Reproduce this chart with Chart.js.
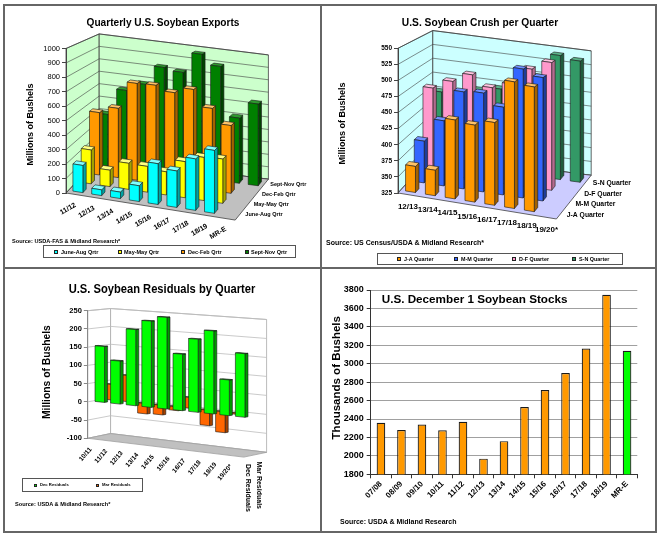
<!DOCTYPE html>
<html><head><meta charset="utf-8"><title>Soybean charts</title>
<script src="https://cdn.jsdelivr.net/npm/chart.js@4.4.1/dist/chart.umd.min.js"></script>
<style>
html,body{margin:0;padding:0;background:#fff;}
#page{position:relative;width:661px;height:538px;overflow:hidden;background:#fff;font-family:"Liberation Sans",Arial,Helvetica,sans-serif;}
#page canvas{position:absolute;left:0;top:0;}
.t{position:absolute;white-space:nowrap;line-height:1;font-weight:bold;color:#000;z-index:5;}
.ln{position:absolute;background:#666;z-index:6;}
.lg{position:absolute;border:1px solid #555;background:#fff;z-index:4;box-sizing:border-box;}
.mk{position:absolute;border:1px solid #222;box-sizing:border-box;z-index:5;}
</style></head>
<body><div id="page">
<canvas id="c1" width="661" height="538"></canvas>
<canvas id="c2" width="661" height="538"></canvas>
<canvas id="c3" width="661" height="538"></canvas>
<canvas id="c4" width="661" height="538"></canvas>
</div>
<script>
const FONT='"Liberation Sans", Arial, Helvetica, sans-serif';

// ---------------- DATA ----------------
const exportCats=['11/12','12/13','13/14','14/15','15/16','16/17','17/18','18/19','MR-E'];
const exportSeries=['June-Aug Qrtr','May-May Qrtr','Dec-Feb Qrtr','Sept-Nov Qrtr'];
const exportJunAug=[190,40,45,110,285,255,360,440,null];
const exportMarMay=[245,119,189,187,168,262,313,321,null];
const exportDecFeb=[469,521,728,734,698,742,619,510,null];
const exportSepNov=[404,611,678,829,810,971,895,510,639];
const exportTicks=[0,100,200,300,400,500,600,700,800,900,1000];

const crushCats=['12/13','13/14','14/15','15/16','16/17','17/18','18/19','19/20*'];
const crushSeries=['J-A Quarter','M-M Quarter','D-F Quarter','S-N Quarter'];
const crushJA=[366,365,449,446,455,524,521,null];
const crushMM=[393,431,483,486,468,535,526,null];
const crushDF=[469,485,501,484,495,525,541,null];
const crushSN=[451,447,463,470,485,500,543,538];
const crushTicks=[325,350,375,400,425,450,475,500,525,550];

const residCats=['10/11','11/12','12/13','13/14','14/15','15/16','16/17','17/18','18/19','19/20*'];
const residSeries=['Dec Residuals','Mar Residuals'];
const residDec=[153,117,206,232,245,150,193,218,93,165];
const residMar=[43,72,-28,-26,-10,29,-41,-55,-3,null];
const residTicks=[-100,-50,0,50,100,150,200,250];

const stockCats=['07/08','08/09','09/10','10/11','11/12','12/13','13/14','14/15','15/16','16/17','17/18','18/19','MR-E'];
const stockValues=[2360,2280,2340,2278,2370,1970,2160,2530,2715,2900,3165,3748,3140];
const stockTicks=[1800,2000,2200,2400,2600,2800,3000,3200,3400,3600,3800];

// ---------------- STYLES ----------------
const exportColors=[
  {front:'#00ffff',side:'#00a3a3',top:'#80ffff'},
  {front:'#ffff00',side:'#a3a300',top:'#ffff80'},
  {front:'#ff9900',side:'#a36200',top:'#ffc266'},
  {front:'#008000',side:'#004400',top:'#2e9a2e'}];
const crushColors=[
  {front:'#ff9900',side:'#a36200',top:'#ffc266'},
  {front:'#3366ff',side:'#1f3d99',top:'#7090ff'},
  {front:'#ff99cc',side:'#b36b8f',top:'#ffc2e0'},
  {front:'#339966',side:'#1f5c3d',top:'#5cb38a'}];
const residColors=[
  {front:'#00ff00',side:'#009900',top:'#00c000'},
  {front:'#ff6600',side:'#a34100',top:'#ff8c40'}];

Chart.defaults.font.family=FONT;
Chart.defaults.color='#000';
const plainTick=v=>String(v);

// ---------------- 3D helpers ----------------
function projector(chart,g){
  const ys=chart.scales.y, L=chart.chartArea.left;
  const yr=ys.getPixelForValue(g.vRef);
  return function(x,v,z){
    const yv=ys.getPixelForValue(v);
    const k=(1-g.kz*z)*(1+g.kx*(x-L));
    return [x+z*g.dzx, yr+(g.s0+g.sz*z)*(x-L)-z*g.dzy-(yr-yv)*k];
  };
}
function poly(ctx,pts,fill,stroke,lw){
  ctx.beginPath();
  pts.forEach((p,i)=>i?ctx.lineTo(p[0],p[1]):ctx.moveTo(p[0],p[1]));
  ctx.closePath();
  if(fill){ctx.fillStyle=fill;ctx.fill();}
  if(stroke){ctx.strokeStyle=stroke;ctx.lineWidth=lw||1;ctx.stroke();}
}
function seg(ctx,a,b,c,lw){ctx.beginPath();ctx.moveTo(a[0],a[1]);ctx.lineTo(b[0],b[1]);ctx.strokeStyle=c;ctx.lineWidth=lw;ctx.stroke();}

function make3D(g){
  return {
    id:'p3d_'+g.name,
    beforeDraw(chart){
      const ctx=chart.ctx,P=projector(chart,g),ca=chart.chartArea,ys=chart.scales.y;
      const L=ca.left,Rx=ca.right,R=g.rows,vmin=ys.min,vmax=ys.max;
      ctx.save();
      poly(ctx,[P(L,vmin,0),P(L,vmin,R),P(L,vmax,R),P(L,vmax,0)],g.wall,g.wallEdge,0.8);
      poly(ctx,[P(L,vmin,R),P(Rx,vmin,R),P(Rx,vmax,R),P(L,vmax,R)],g.wall,g.wallEdge,0.8);
      ys.ticks.forEach(t=>{
        seg(ctx,P(L,t.value,0),P(L,t.value,R),g.grid,g.gridW);
        seg(ctx,P(L,t.value,R),P(Rx,t.value,R),g.grid,g.gridW);
      });
      poly(ctx,[P(L,vmin,0),P(Rx,vmin,0),P(Rx,vmin,R),P(L,vmin,R)],g.floor,g.floorEdge,0.8);
      ctx.restore();
    },
    afterDatasetsDraw(chart){
      const ctx=chart.ctx,P=projector(chart,g),ca=chart.chartArea,ys=chart.scales.y,xs=chart.scales.x;
      ctx.save(); ctx.lineJoin='round';
      for(let d=chart.data.datasets.length-1;d>=0;d--){
        const ds=chart.data.datasets[d],meta=chart.getDatasetMeta(d),col=g.colors[d];
        const zf=d+0.5-g.f/2, zb=d+0.5+g.f/2;
        meta.data.forEach((el,i)=>{
          const v=ds.data[i]; if(v===null||v===undefined) return;
          const pr=el.getProps(['x','width'],true);
          const x0=pr.x-pr.width/2, x1=pr.x+pr.width/2;
          const vt=Math.max(v,g.vBase), vb=Math.min(v,g.vBase);
          poly(ctx,[P(x1,vt,zf),P(x1,vt,zb),P(x1,vb,zb),P(x1,vb,zf)],col.side,g.edge,g.edgeW);
          poly(ctx,[P(x0,vt,zf),P(x1,vt,zf),P(x1,vt,zb),P(x0,vt,zb)],col.top,g.edge,g.edgeW);
          poly(ctx,[P(x0,vt,zf),P(x1,vt,zf),P(x1,vb,zf),P(x0,vb,zf)],col.front,g.edge,g.edgeW);
        });
      }
      // category labels along the front edge of the floor
      ctx.fillStyle='#000'; ctx.font=g.catFont;
      chart.data.labels.forEach((lab,i)=>{
        const p=P(xs.getPixelForValue(i),ys.min,0);
        ctx.save(); ctx.translate(p[0]+g.catDx,p[1]+g.catDy); ctx.rotate(g.catRot*Math.PI/180);
        ctx.textAlign=g.catAlign; ctx.textBaseline='middle'; ctx.fillText(lab,0,0); ctx.restore();
      });
      // series (depth) labels along the right edge of the floor
      ctx.font=g.rowFont;
      chart.data.datasets.forEach((ds,d)=>{
        const p=P(ca.right,ys.min,d+0.5);
        ctx.save(); ctx.translate(p[0]+g.rowDx,p[1]+g.rowDy); ctx.rotate(g.rowRot*Math.PI/180);
        ctx.textAlign='left'; ctx.textBaseline='middle'; ctx.fillText(ds.label,0,0); ctx.restore();
      });
      ctx.restore();
    }
  };
}

function build3D(id,cats,names,series,ticks,area,g){
  const datasets=series.map((d,i)=>({label:names[i],data:d,backgroundColor:'rgba(0,0,0,0)',borderWidth:0,
    grouped:false,categoryPercentage:g.barFrac,barPercentage:1}));
  return new Chart(document.getElementById(id),{
    type:'bar',
    data:{labels:cats,datasets},
    options:{
      responsive:false,animation:false,events:[],
      layout:{padding:{left:area.left-g.axisW,top:area.top,right:661-area.right,bottom:538-area.bottom}},
      plugins:{legend:{display:false},tooltip:{enabled:false},title:{display:false}},
      scales:{
        x:{type:'category',display:false,offset:true},
        y:{position:'left',min:ticks[0],max:ticks[ticks.length-1],
          ticks:{stepSize:ticks[1]-ticks[0],font:g.tickFont,color:'#000',padding:2,autoSkip:false,callback:plainTick},
          grid:{drawOnChartArea:false,drawTicks:true,tickLength:4,color:g.axisColor,tickColor:g.axisColor},
          border:{display:true,color:g.axisColor,width:1},
          afterFit(s){s.width=g.axisW;}}
      }
    },
    plugins:[make3D(g)]
  });
}

// ---------- Panel 1: exports ----------
build3D('c1',exportCats,exportSeries,[exportJunAug,exportMarMay,exportDecFeb,exportSepNov],exportTicks,
  {left:66,right:235.2,top:48.5,bottom:193},
  {name:'exp',rows:4,dzx:8.3,dzy:8.7,f:0.4,s0:0.16,sz:-0.009,kz:0.035,kx:0,vRef:0,vBase:0,barFrac:0.53,
   axisW:30,tickFont:{size:7.5,weight:'normal'},axisColor:'#444',
   wall:'#ccffcc',wallEdge:'#404040',grid:'#404040',gridW:0.6,floor:'#c0c0c0',floorEdge:'#404040',
   edge:'#1a1a1a',edgeW:0.6,colors:exportColors,
   catFont:'bold 7px '+FONT,catRot:-30,catAlign:'right',catDx:0,catDy:10,
   rowFont:'bold 5.5px '+FONT,rowDx:6,rowDy:0,rowRot:0});

// ---------- Panel 2: crush ----------
build3D('c2',crushCats,crushSeries,[crushJA,crushMM,crushDF,crushSN],crushTicks,
  {left:398,right:556.4,top:48.3,bottom:193},
  {name:'cr',rows:4,dzx:8.7,dzy:9.5,f:0.4,s0:0.164,sz:-0.009,kz:0.035,kx:0,vRef:325,vBase:325,barFrac:0.5,
   axisW:30,tickFont:{size:6.5,weight:'bold'},axisColor:'#444',
   wall:'#ccffff',wallEdge:'#404040',grid:'#404040',gridW:0.6,floor:'#ccccff',floorEdge:'#404040',
   edge:'#1a1a1a',edgeW:0.6,colors:crushColors,
   catFont:'bold 8px '+FONT,catRot:0,catAlign:'center',catDx:0,catDy:12,
   rowFont:'bold 6.8px '+FONT,rowDx:6,rowDy:2,rowRot:0});

// ---------- Panel 3: residuals ----------
build3D('c3',residCats,residSeries,[residDec,residMar],residTicks,
  {left:87.8,right:243.8,top:310.7,bottom:438.3},
  {name:'res',rows:2,dzx:11.4,dzy:2,f:0.27,s0:0.106,sz:0,kz:0.01,kx:0.0004,vRef:0,vBase:0,barFrac:0.61,
   axisW:30,tickFont:{size:7.5,weight:'bold'},axisColor:'#888',
   wall:'#ffffff',wallEdge:'#a8a8a8',grid:'#bcbcbc',gridW:0.8,floor:'#c0c0c0',floorEdge:'#a0a0a0',
   edge:'#1a1a1a',edgeW:0.6,colors:residColors,
   catFont:'bold 6.5px '+FONT,catRot:-50,catAlign:'right',catDx:-5,catDy:9,
   rowFont:'bold 7px '+FONT,rowDx:-2,rowDy:8,rowRot:90});

// ---------- Panel 4: December 1 stocks ----------
new Chart(document.getElementById('c4'),{
  type:'bar',
  data:{labels:stockCats,datasets:[{label:'Dec 1 Stocks',data:stockValues,
    backgroundColor:stockCats.map(c=>c==='MR-E'?'#00ff00':'#ff9900'),
    borderColor:'#1a1a1a',borderWidth:1.2,borderSkipped:false,categoryPercentage:1,barPercentage:0.42}]},
  options:{
    responsive:false,animation:false,events:[],
    layout:{padding:{left:370.7-34,top:290,right:661-637.3,bottom:538-474.3-52}},
    plugins:{legend:{display:false},tooltip:{enabled:false}},
    scales:{
      x:{grid:{drawOnChartArea:false,drawTicks:true,tickLength:4,color:'#333',tickColor:'#333',offset:true},
         border:{display:true,color:'#333',width:1},
         ticks:{font:{size:8,weight:'bold'},color:'#000',minRotation:45,maxRotation:45,autoSkip:false,padding:1},
         afterFit(s){s.height=52;}},
      y:{min:stockTicks[0],max:stockTicks[stockTicks.length-1],
         ticks:{stepSize:stockTicks[1]-stockTicks[0],font:{size:9,weight:'bold'},color:'#000',padding:3,callback:plainTick},
         grid:{color:'#a0a0a0',tickLength:4,tickColor:'#333',lineWidth:1},
         border:{display:true,color:'#333',width:1},
         afterFit(s){s.width=34;}}
    }
  }
});

// ---------------- HTML text, legends and frames ----------------
const page=document.getElementById('page');
function txt(s,x,y,size,o={}){
  const d=document.createElement('div'); d.className='t'; d.textContent=s;
  let sc=1, fs=size;
  if(size<7){fs=10; sc=size/10;}
  d.style.fontSize=fs+'px'; d.style.left=x+'px'; d.style.top=(y-fs/2)+'px';
  const tx=o.align==='center'?'-50%':o.align==='right'?'-100%':'0';
  let tf=`translateX(${tx})`;
  if(o.rot) tf+=` rotate(${o.rot}deg)`;
  const sx=(o.sx||1)*sc;
  if(sx!==1||sc!==1) tf+=` scale(${sx},${sc})`;
  d.style.transformOrigin=(o.align==='center'||o.rot)?'50% 50%':(o.align==='right'?'100% 50%':'0 50%');
  d.style.transform=tf;
  page.appendChild(d); return d;
}
function box(cls,x,y,w,h,bg){
  const d=document.createElement('div'); d.className=cls;
  d.style.left=x+'px';d.style.top=y+'px';d.style.width=w+'px';d.style.height=h+'px';
  if(bg) d.style.background=bg; page.appendChild(d); return d;
}
function legend(bx,names,colors,xs,fsz,msz){
  box('lg',bx.x,bx.y,bx.w,bx.h);
  const cy=bx.y+bx.h/2;
  names.forEach((n,i)=>{
    box('mk',xs[i],cy-msz/2,msz,msz,colors[i].front);
    txt(n,xs[i]+msz+2.5,cy,fsz);
  });
}

// titles
txt('Quarterly U.S. Soybean Exports',163,22.8,11,{align:'center',sx:0.92});
txt('U.S. Soybean Crush per Quarter',480,22.8,11,{align:'center',sx:0.93});
txt('U.S. Soybean Residuals by Quarter',161.5,289.4,12,{align:'center',sx:0.93});
txt('U.S. December 1 Soybean Stocks',381.7,298.5,11.7);
// axis titles
txt('Millions of Bushels',29.5,124,9,{align:'center',rot:-90});
txt('Millions of Bushels',341.7,123.3,9,{align:'center',rot:-90});
txt('Millions of Bushels',46.7,372,10.3,{align:'center',rot:-90});
txt('Thousands of Bushels',337,378,11.5,{align:'center',rot:-90});
// sources
txt('Source: USDA-FAS & Midland Research*',12,240.5,5.6);
txt('Source: US Census/USDA & Midland Research*',326,242.5,7);
txt('Source: USDA & Midland Research*',15,504.3,5.6);
txt('Source: USDA & Midland Research',340,521,7);
// legends
legend({x:43,y:245,w:253,h:13},exportSeries,exportColors,[54,117.5,181,244.5],5.5,4);
legend({x:377,y:253,w:246,h:12},crushSeries,crushColors,[397,454,512,572],5.4,4);
legend({x:22,y:478,w:121,h:14},residSeries,residColors,[34,96],4.2,3);
// frames
[[3,4,654,2],[3,4,2,529],[655,4,2,529],[3,531,654,2],[320,4,2,529],[3,267,654,2]].forEach(r=>box('ln',r[0],r[1],r[2],r[3]));
</script></body></html>
